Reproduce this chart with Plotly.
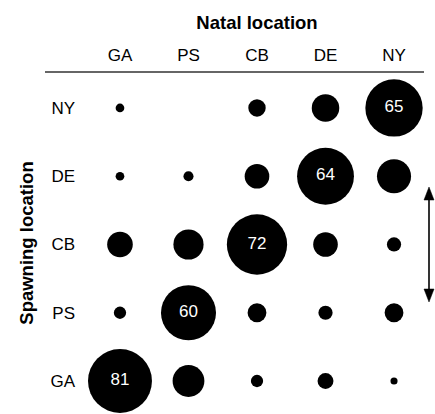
import plotly.graph_objects as go

natal = ["GA", "PS", "CB", "DE", "NY"]          # columns
spawning = ["GA", "PS", "CB", "DE", "NY"]       # rows, bottom to top

# percent of fish of each natal origin found at each spawning location
# values[row=spawning][col=natal]
values = {
    "GA": [81, 20, 3, 5, 1],
    "PS": [3, 60, 7, 4, 7],
    "CB": [13, 18, 72, 12, 4],
    "DE": [1.5, 2, 12, 64, 23],
    "NY": [1.5, 0, 6, 15, 65],
}

xs, ys, vs, txt = [], [], [], []
for s in spawning:
    for j, n in enumerate(natal):
        xs.append(n)
        ys.append(s)
        v = values[s][j]
        vs.append(v)
        txt.append(str(v) if n == s else "")

FONT = "Liberation Sans, Arial, Helvetica, sans-serif"

W, H = 435, 414
L, R, T, B = 86, 7, 72, 0
PW, PH = W - L - R, H - T - B

fig = go.Figure(go.Scatter(
    x=xs, y=ys, mode="markers+text",
    marker=dict(size=vs, sizemode="area", sizeref=0.0396, color="black",
                opacity=1, line=dict(width=0)),
    text=txt, textposition="middle center",
    textfont=dict(color="white", size=17, family=FONT),
    hoverinfo="skip", cliponaxis=False,
))

ax_x = (429 - L) / PW
y_top = (H - 187) / PH
y_bot = (H - 302) / PH

shapes = [
    dict(type="line", xref="paper", yref="paper",
         x0=(45 - L) / PW, x1=(424 - L) / PW, y0=1, y1=1,
         line=dict(color="#333333", width=1.5)),
    dict(type="line", xref="paper", yref="paper",
         x0=ax_x, x1=ax_x, y0=y_top - 0.02, y1=y_bot + 0.02,
         line=dict(color="black", width=1.6)),
    dict(type="path", xref="paper", yref="paper",
         xsizemode="pixel", ysizemode="pixel", xanchor=ax_x, yanchor=y_top,
         path="M0,0 L-5,-13 L5,-13 Z", fillcolor="black",
         line=dict(color="black", width=0.5)),
    dict(type="path", xref="paper", yref="paper",
         xsizemode="pixel", ysizemode="pixel", xanchor=ax_x, yanchor=y_bot,
         path="M0,0 L-5,13 L5,13 Z", fillcolor="black",
         line=dict(color="black", width=0.5)),
]

fig.update_layout(
    width=W, height=H,
    margin=dict(l=L, r=R, t=T, b=B, autoexpand=False),
    plot_bgcolor="white", paper_bgcolor="white",
    showlegend=False,
    font=dict(family=FONT, size=17, color="black"),
    xaxis=dict(
        type="category", categoryorder="array", categoryarray=natal,
        range=[-0.496, 4.496], side="top", automargin=False,
        showgrid=False, zeroline=False, showline=False, ticks="",
        ticklabelstandoff=7,
        title=dict(text="<b>Natal location</b>", font=dict(size=18.5), standoff=11),
        fixedrange=True,
    ),
    yaxis=dict(
        type="category", categoryorder="array", categoryarray=spawning,
        range=[-0.4835, 4.527], automargin=False,
        showgrid=False, zeroline=False, showline=False, ticks="",
        ticklabelstandoff=10,
        title=dict(text="<b>Spawning location</b>", font=dict(size=18.5), standoff=11),
        fixedrange=True,
    ),
    shapes=shapes,
)

# remove the browser's default 8px body margin so the figure fills the window
fig.write_html("out.html", config={"displayModeBar": False},
               post_script="document.body.style.margin='0';")
